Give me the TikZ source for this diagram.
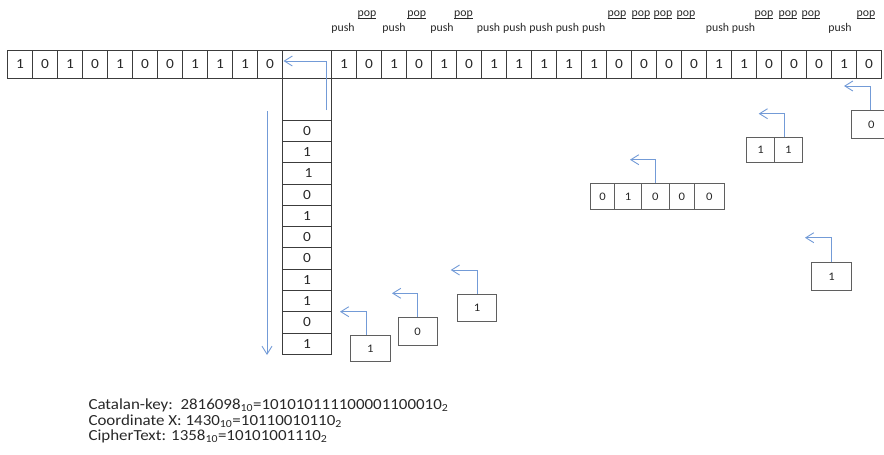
\documentclass[tikz,border=0pt]{standalone}
\usepackage{fontspec}
\setmainfont{Carlito}[FakeStretch=1.1]
\newfontfamily\lblfont{Carlito}
\usetikzlibrary{arrows.meta}
\definecolor{arrblue}{RGB}{115,155,215}
\definecolor{boxline}{RGB}{60,60,60}
\definecolor{sboxline}{RGB}{95,95,95}
\definecolor{txt}{RGB}{40,40,40}
\newcommand\popul[1]{\setbox0\hbox{#1}\rlap{\rule[-1.3pt]{\wd0}{0.5pt}}\box0}
\begin{document}
\begin{tikzpicture}[x=1pt,y=-1pt,
  cell/.style={draw=boxline, line width=0.8pt, minimum width=25pt, minimum height=28pt, inner sep=0pt, text=txt, font=\fontsize{14}{14}\selectfont},
  scell/.style={draw=boxline, line width=0.8pt, minimum width=49pt, minimum height=21.3pt, inner sep=0pt, text=txt, font=\fontsize{14}{14}\selectfont},
  sbox/.style={draw=sboxline, line width=0.95pt, inner sep=0pt, text=txt, font=\fontsize{11.5}{11.5}\selectfont},
  arr/.style={draw=arrblue, line width=0.9pt, -{Straight Barb[length=8pt,width=10pt]}},
  lbl/.style={anchor=base, inner sep=0pt, text=txt, font=\lblfont\fontsize{11.8}{11.8}\selectfont},
  info/.style={anchor=base west, inner sep=0pt, text=txt, font=\fontsize{15.4}{15.4}\selectfont}]
\clip (0,0) rectangle (884,455);
% top row, left part
\foreach \d [count=\i from 0] in {1,0,1,0,1,0,0,1,1,1,0}
  \node[cell] (L\i) at (20+25*\i,64) {\d};
% stack column
\node[cell, minimum width=49pt] (C0) at (307,64) {};
\node[cell, minimum width=49pt, minimum height=42pt] (stk0) at (307,99) {};
\foreach \d/\dx [count=\i from 1] in {0/0,1/0,1/3,0/0,1/0,0/0,0/0,1/0,1/0,0/0,1/0}
  \node[scell] (S\i) at (307,120+21.3*\i-10.65) {\hspace*{\dx pt}\d};
% top row, right part
\foreach \d [count=\i from 0] in {1,0,1,0,1,0,1,1,1,1,1,0,0,0,0,1,1,0,0,0,1,0}
  \node[cell] (R\i) at (344+25*\i,64) {\d};
% push / pop labels
\foreach \x [count=\i] in {343,394,442,488.5,514.8,541.1,567.4,593.7,717.5,743.5,840}
  \node[lbl] (push\i) at (\x,31.7) {push};
\foreach \x [count=\i] in {367,416.7,463.5,617,641,663,686,764,788,811,866}
  \node[lbl] (pop\i) at (\x,16.7) {\popul{pop}};
% arrow inside stack column
\coordinate (qs) at (326.5,110);
\coordinate (qt) at (283.5,61);
\draw[arr] (qs) |- (qt);
% long down arrow
\coordinate (ds) at (267,111);
\coordinate (de) at (267,355);
\draw[arr] (ds) -- (de);
% single boxes
\node[sbox, minimum width=39.3pt, minimum height=26.7pt] (bA) at (370.35,348.35) {1};
\node[sbox, minimum width=39.3pt, minimum height=27.3pt] (bB) at (417.65,331.35) {0};
\node[sbox, minimum width=39.4pt, minimum height=27pt] (bC) at (477,307.8) {1};
\node[sbox, minimum width=39.6pt, minimum height=27.3pt] (bF) at (831.5,276.35) {1};
\node[sbox, minimum width=39.3pt, minimum height=27.6pt] (bG) at (871.35,124.5) {0};
% five-cell box
\node[sbox, minimum width=24pt, minimum height=25.3pt] (d1) at (602.7,196.35) {0};
\node[sbox, minimum width=26.6pt, minimum height=25.3pt] (d2) at (628,196.35) {1};
\node[sbox, minimum width=28pt, minimum height=25.3pt] (d3) at (655.3,196.35) {0};
\node[sbox, minimum width=25pt, minimum height=25.3pt] (d4) at (681.8,196.35) {0};
\node[sbox, minimum width=30pt, minimum height=25.3pt] (d5) at (709.3,196.35) {0};
% two-cell box
\node[sbox, minimum width=27.6pt, minimum height=25.4pt] (e1) at (760.5,150) {1};
\node[sbox, minimum width=28pt, minimum height=25.4pt] (e2) at (788.3,150) {1};
% arrow tips
\coordinate (tA) at (340,311.7);
\coordinate (tB) at (392,293.3);
\coordinate (tC) at (450.7,270);
\coordinate (tD) at (630,159.7);
\coordinate (tE) at (758.7,113.7);
\coordinate (tF) at (805,237.7);
\coordinate (tG) at (844,86);
\draw[arr] ([xshift=-4.35pt]bA.north) |- (tA);
\draw[arr] (bB.north) |- (tB);
\draw[arr] (bC.north) |- (tC);
\draw[arr] (d3.north) |- (tD);
\draw[arr] ([xshift=-3.6pt]e2.north) |- (tE);
\draw[arr] (bF.north) |- (tF);
\draw[arr] ([xshift=-0.6pt]bG.north) |- (tG);
% bottom text
\node[info] (t1) at (88.3,409.3) {Catalan-key:\ \ 2816098\textsubscript{10}=101010111100001100010\textsubscript{2}};
\node[info] (t2) at (88.3,425) {Coordinate X: 1430\textsubscript{10}=10110010110\textsubscript{2}};
\node[info] (t3) at (88.3,440.7) {CipherText: 1358\textsubscript{10}=10101001110\textsubscript{2}};
\end{tikzpicture}
\end{document}
